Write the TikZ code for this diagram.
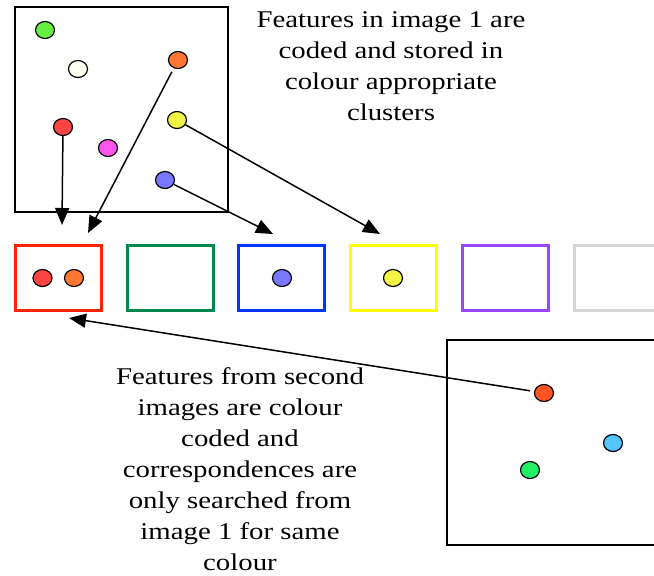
\documentclass[tikz,border=0pt]{standalone}
\usepackage{fontspec}
\setmainfont{Liberation Serif}[FakeStretch=1.2]
\usetikzlibrary{arrows.meta,shapes.geometric}
\definecolor{dotgreen}{HTML}{66EE44}
\definecolor{dotwhite}{HTML}{FFFFF4}
\definecolor{dotorange}{HTML}{FF7733}
\definecolor{dotyellow}{HTML}{F4F444}
\definecolor{dotred}{HTML}{FF4444}
\definecolor{dotpink}{HTML}{FF55EE}
\definecolor{dotblue}{HTML}{7777FF}
\definecolor{dotvermil}{HTML}{FF5522}
\definecolor{dotcyan}{HTML}{55C4FF}
\definecolor{dotlime}{HTML}{22EE66}
\definecolor{binred}{HTML}{FF2200}
\definecolor{bingreen}{HTML}{00894C}
\definecolor{binblue}{HTML}{0033FF}
\definecolor{binyellow}{HTML}{FFFF00}
\definecolor{binpurple}{HTML}{9944FF}
\definecolor{bingray}{HTML}{D6D6D6}
\begin{document}
\begin{tikzpicture}[x=1pt, y=-1pt, line width=1.5pt,
  dot/.style={ellipse, draw, line width=1.2pt, minimum width=19pt, minimum height=17pt, inner sep=0pt},
  bin/.style={draw, line width=3pt, minimum width=86pt, minimum height=65pt, inner sep=0pt},
  arr/.style={-{Triangle[length=17pt,width=14pt]}, line width=1.5pt},
  note/.style={align=center, inner sep=0pt, font=\fontsize{24}{31}\selectfont}]
  \clip (0,0) rectangle (654,576);
  \draw[line width=2pt] (15,7) rectangle (228,212);
  \draw[line width=2pt] (447,340) rectangle (664,545);
  \node[dot, fill=dotgreen]  (g1) at (45,30)   {};
  \node[dot, fill=dotwhite]  (w1) at (78,69)   {};
  \node[dot, fill=dotorange] (o1) at (178,60)  {};
  \node[dot, fill=dotyellow] (y1) at (177,120) {};
  \node[dot, fill=dotred]    (r1) at (63,127)  {};
  \node[dot, fill=dotpink]   (p1) at (108,148) {};
  \node[dot, fill=dotblue]   (b1) at (165,180) {};
  \node[bin, draw=binred]    (redbin)    at (58.5,278) {};
  \node[bin, draw=bingreen]  (greenbin)  at (170,278)  {};
  \node[bin, draw=binblue]   (bluebin)   at (281.5,278) {};
  \node[bin, draw=binyellow] (yellowbin) at (393,278)  {};
  \node[bin, draw=binpurple] (purplebin) at (505,278)  {};
  \node[bin, draw=bingray]   (graybin)   at (617,278)  {};
  \node[dot, fill=dotred]    (r1c) at (42.5,278) {};
  \node[dot, fill=dotorange] (o1c) at (74,278)   {};
  \node[dot, fill=dotblue]   (b1c) at (282,278)  {};
  \node[dot, fill=dotyellow] (y1c) at (393,278)  {};
  \node[dot, fill=dotvermil] (o2) at (544,393) {};
  \node[dot, fill=dotcyan]   (c2) at (613,443) {};
  \node[dot, fill=dotlime]   (g2) at (530,470) {};
  \coordinate (t1) at (62,225);
  \coordinate (t2) at (88,233);
  \coordinate (t3) at (380,234);
  \coordinate (t4) at (273,234);
  \coordinate (t5) at (69,318);
  \draw[arr] (r1) -- (t1);
  \draw[arr, shorten <=4pt] (o1) -- (t2);
  \draw[arr] (y1) -- (t3);
  \draw[arr] (b1) -- (t4);
  \draw[arr, shorten <=4pt] (o2) -- (t5);
  \node[note] (topnote) at (391,66) {Features in image 1 are\\coded and stored in\\colour appropriate\\clusters};
  \node[note] (lownote) at (240,469) {Features from second\\images are colour\\coded and\\correspondences are\\only searched from\\image 1 for same\\colour};
\end{tikzpicture}
\end{document}
